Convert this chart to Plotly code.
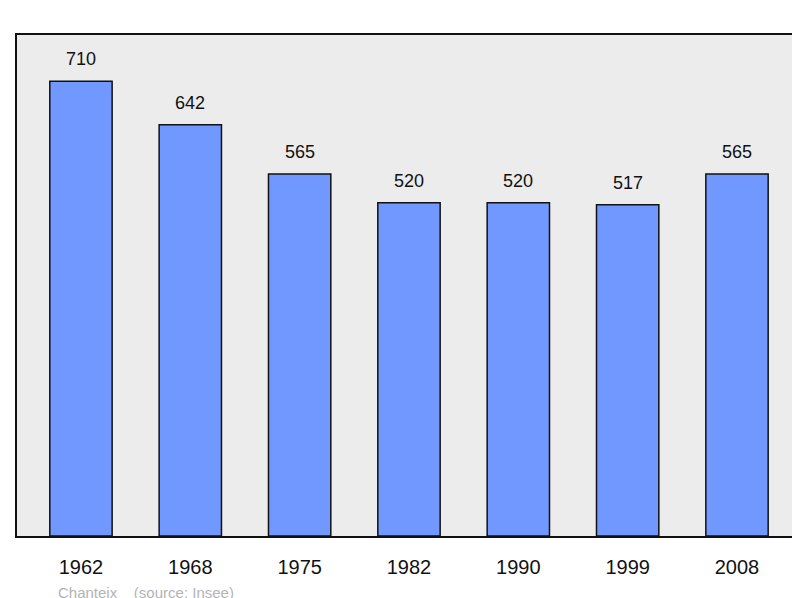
import plotly.graph_objects as go

years = ["1962", "1968", "1975", "1982", "1990", "1999", "2008"]
population = [710, 642, 565, 520, 520, 517, 565]

fig = go.Figure()
fig.add_trace(go.Bar(
    x=list(range(len(years))), y=population,
    width=0.57,
    marker=dict(color="#7098ff", line=dict(color="#111111", width=1.5)),
))

# value labels above each bar
for i, v in enumerate(population):
    fig.add_annotation(
        x=i, y=v, text=str(v), showarrow=False, yshift=22,
        font=dict(size=18, color="#111111"),
    )

fig.update_layout(
    width=800, height=598,
    margin=dict(l=9, r=9, t=27, b=70, autoexpand=False),
    paper_bgcolor="white", plot_bgcolor="#ececec",
    showlegend=False,
    font=dict(family="Liberation Sans, Arial"),
)
fig.update_xaxes(
    range=[-0.585, 6.567], tickvals=list(range(len(years))), ticktext=years,
    tickfont=dict(size=20, color="#111111"), showgrid=False, zeroline=False,
    showline=True, mirror=True, linecolor="#111111", linewidth=2,
    ticks="outside", ticklen=12, tickcolor="rgba(0,0,0,0)",
)
fig.update_yaxes(
    range=[0, 782], showticklabels=False, showgrid=False, zeroline=False,
    showline=True, mirror=True, linecolor="#111111", linewidth=2,
)
fig.add_annotation(
    text="Chanteix    (source: Insee)", xref="paper", yref="paper",
    x=0.05, y=-0.112, xanchor="left", yanchor="middle", showarrow=False,
    font=dict(size=15, color="#b4b4b4"),
)

fig.write_html("out.html")
